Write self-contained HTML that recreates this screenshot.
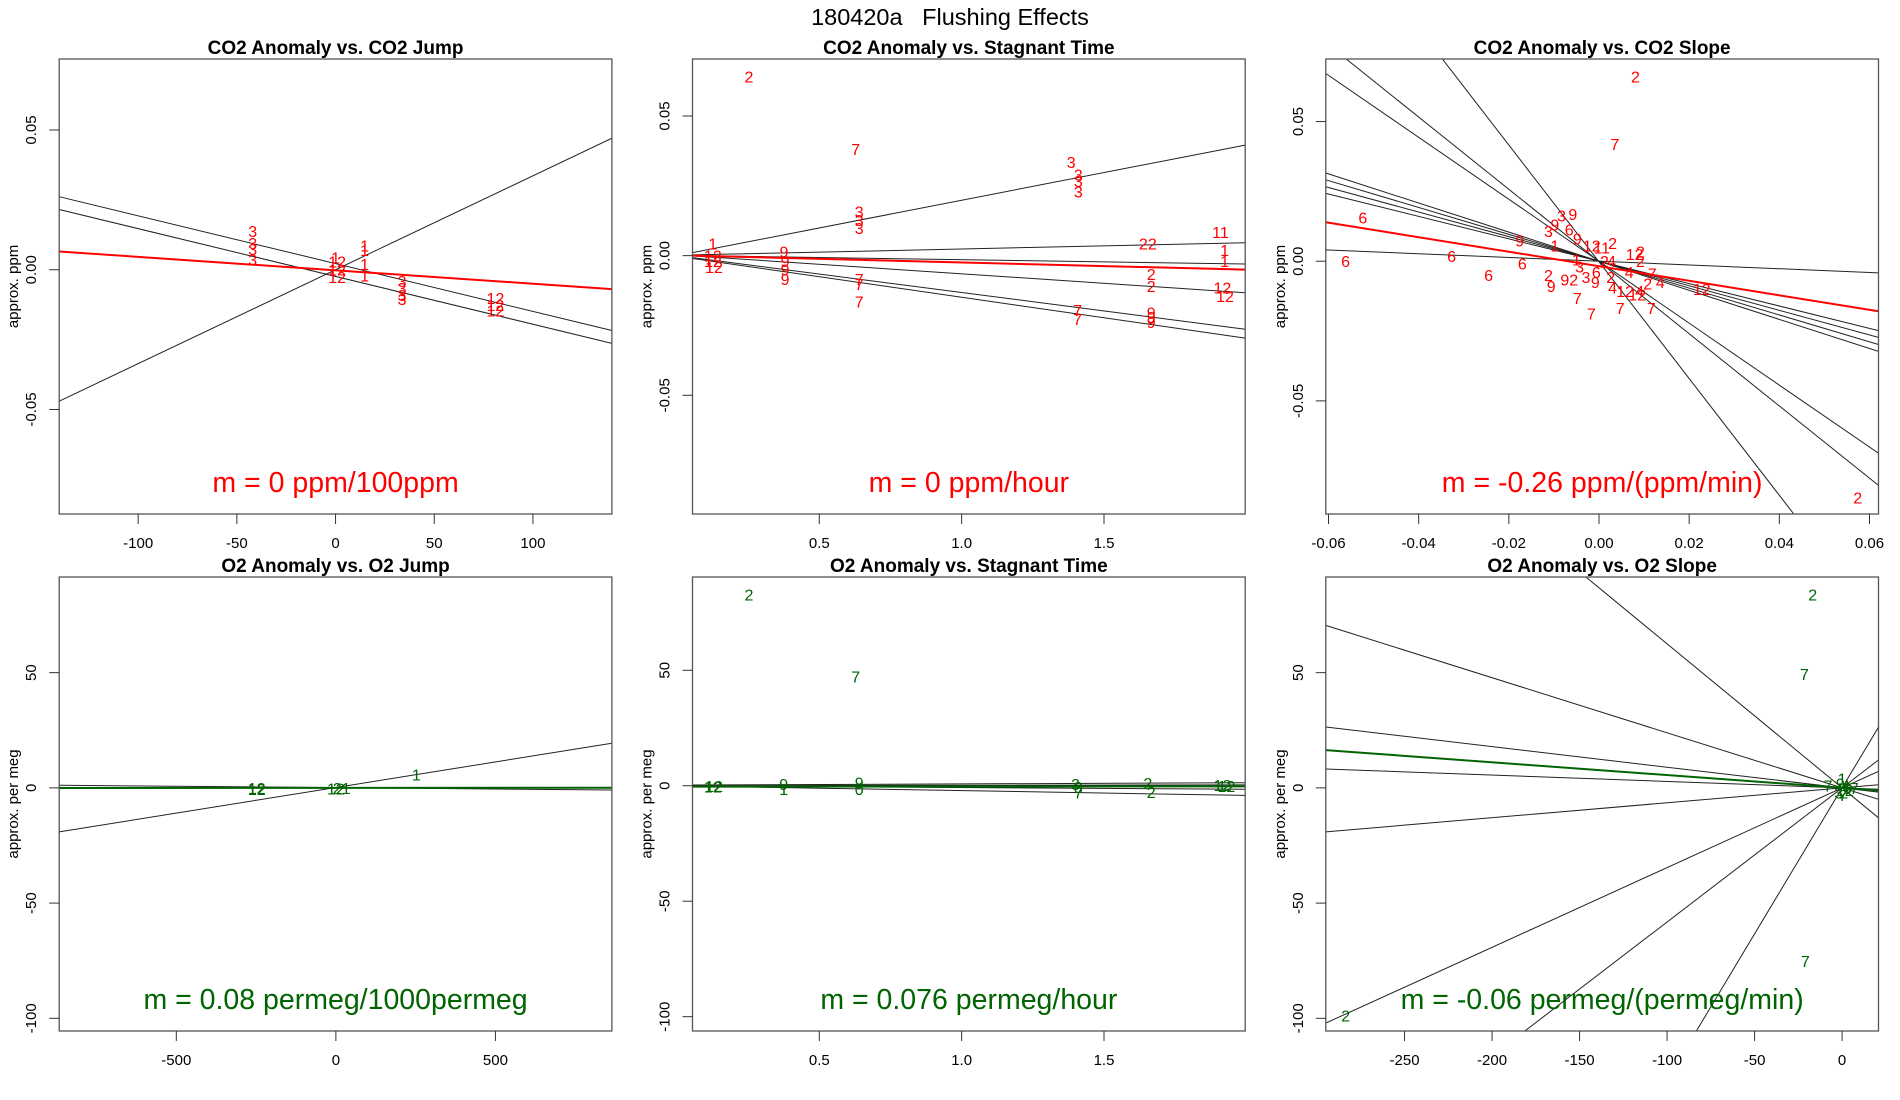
<!DOCTYPE html>
<html><head><meta charset="utf-8"><style>
html,body{margin:0;padding:0;background:#fff;width:1900px;height:1100px;overflow:hidden;}
svg{display:block;font-family:"Liberation Sans",Arial,sans-serif;}
</style></head><body>
<svg id="fig" width="1900" height="1100" viewBox="0 0 1900 1100">
<rect x="0" y="0" width="1900" height="1100" fill="#fff"/>
<text x="950" y="25" text-anchor="middle" font-size="23.5">180420a&#160;&#160;&#160;Flushing Effects</text>
</svg>
<script>
// ---------- Panel 1: CO2 anomaly vs CO2 jump ----------
const p1LabelText = ["3","3","3","3","1","1","1","1","12","12","12","1","3","3","3","3","12","12","12"];
const p1LabelX = [-42,-42,-42,-42,14.7,14.7,14.7,14.7,0.8,0.8,0.8,0,33.7,33.7,33.7,33.7,81,81,81];
const p1LabelY = [0.0139,0.0096,0.0074,0.0036,0.0086,0.0071,0.0021,-0.002,0.003,0,-0.0026,0.0043,-0.004,-0.0065,-0.009,-0.0105,-0.0101,-0.0126,-0.0145];
const p1Slopes = [-0.000171,-0.000171,0.000336];
const p1Intercepts = [0.0022,-0.0024,0];
const p1Fit = [-0.000048,-0.0002];
const p1XTicks = [-100,-50,0,50,100];
const p1YTicks = [-0.05,0,0.05];
const p1YTickLabels = ["-0.05","0.00","0.05"];

// ---------- Panel 2: CO2 anomaly vs stagnant time ----------
const p2LabelText = ["2","7","3","3","3","3","3","3","3","1","12","12","12","9","9","9","9","7","7","7","11","1","1","22","2","2","12","12","7","7","9","9","9"];
const p2LabelX = [0.253,0.628,1.385,1.41,1.41,1.41,0.64,0.64,0.64,0.126,0.126,0.126,0.13,0.376,0.38,0.38,0.38,0.64,0.64,0.64,1.909,1.924,1.924,1.654,1.666,1.666,1.916,1.925,1.407,1.407,1.666,1.666,1.666];
const p2LabelY = [0.0642,0.0381,0.0335,0.029,0.0268,0.023,0.0158,0.0128,0.0099,0.0043,0,-0.002,-0.004,0.0014,-0.002,-0.005,-0.0083,-0.0083,-0.0101,-0.0164,0.0084,0.0021,-0.002,0.0043,-0.0066,-0.0108,-0.0114,-0.0145,-0.0195,-0.0227,-0.0204,-0.022,-0.0237];
const p2Slopes = [0.01983,0.00225,-0.00155,-0.0068,-0.0132,-0.0147];
const p2Intercepts = [0,0.00013,0.0001,0.0003,0,-0.0002];
const p2Fit = [-0.00258,0.00014];
const p2XTicks = [0.5,1.0,1.5];
const p2XTickLabels = ["0.5","1.0","1.5"];

// ---------- Panel 3: CO2 anomaly vs CO2 slope ----------
const p3LabelText = ["2","7","6","6","6","6","6","9","3","9","3","9","6","9","1","2","12","11","12","2","2","2","9","92","3","9","7","7","7","7","12","12","4","2","4","7","4","12","4","2","3","1","6","2","4","2"];
const p3LabelX = [0.0081,0.0035,-0.0524,-0.0562,-0.0327,-0.0245,-0.017,-0.0176,-0.0083,-0.0058,-0.0112,-0.0098,-0.0066,-0.0048,-0.0098,0.003,-0.0016,0.0006,0.0079,0.0092,0.0092,-0.0112,-0.0106,-0.0066,-0.0029,-0.0008,-0.0048,-0.0017,0.0047,0.0116,0.0058,0.0085,0.009,0.0108,0.0136,0.0118,0.0067,0.0228,0.0028,0.0012,-0.0043,-0.005,-0.0006,0.0026,0.003,0.0574];
const p3LabelY = [0.0662,0.042,0.0157,0,0.0019,-0.005,-0.0009,0.0075,0.0163,0.0169,0.0109,0.0132,0.0113,0.0081,0.0056,0.0065,0.0056,0.005,0.0025,0.0034,0,-0.005,-0.0088,-0.0065,-0.0056,-0.0075,-0.0132,-0.0188,-0.0167,-0.0167,-0.0107,-0.0119,-0.0107,-0.0079,-0.0075,-0.0044,-0.0038,-0.01,0,0,-0.0019,0.0006,-0.0038,-0.0056,-0.0094,-0.0846];
const p3Slopes = [-2.09,-1.293,-1.109,-0.521,-0.481,-0.44,-0.401,-0.067];
const p3Intercepts = [-0.0002,-0.0001,0,0,0,0,0,0];
const p3Fit = [-0.26,-0.0018];
const p3XTicks = [-0.06,-0.04,-0.02,0,0.02,0.04,0.06];
const p3XTickLabels = ["-0.06","-0.04","-0.02","0.00","0.02","0.04","0.06"];

// ---------- Panel 4: O2 anomaly vs O2 jump ----------
const p4LabelText = ["12","12","12","21","1"];
const p4LabelX = [-248,-248,0,18,252];
const p4LabelY = [0,-0.5,-0.3,0,5.8];
const p4Slopes = [0.0222,-0.0012];
const p4Intercepts = [0.15,0.1];
const p4Fit = [0.00008,0];
const p4XTicks = [-500,0,500];
const p4YTicks = [-100,-50,0,50];

// ---------- Panel 5: O2 anomaly vs stagnant time ----------
const p5LabelText = ["2","7","12","12","9","1","9","0","3","3","7","2","2","12","12"];
const p5LabelX = [0.253,0.628,0.126,0.13,0.375,0.375,0.64,0.64,1.40,1.41,1.41,1.654,1.666,1.916,1.93];
const p5LabelY = [82.9,47.4,-0.3,0,0.8,-1.5,1.5,-1.5,0.8,-0.5,-3,1.2,-2.7,0.3,0];
const p5Slopes = [-2.1,-0.77,0.5,0.2];
const p5Intercepts = [0,0,0.3,0];
const p5Fit = [0.076,-0.4];

// ---------- Panel 6: O2 anomaly vs O2 slope ----------
const p6LabelText = ["2","7","7","2","7","7","1","2","4","9","12","3","6","7"];
const p6LabelX = [-16.8,-21.5,-21,-283.6,-8,7,0,1,2,-1,1.5,-2,3,0.5];
const p6LabelY = [83.9,49.4,-75.2,-98.8,1,0,4,-2,1,2,-1,-2,0,-3];
const p6Slopes = [-0.625,-0.239,-0.0895,-0.0278,0.0647,0.346,0.582,1.267];
const p6Intercepts = [0,0,0,0,0,0,0,0];
const p6Fit = [-0.0555,0];
const p6XTicks = [-250,-200,-150,-100,-50,0];
const p6XTickLabels = ["-250","-200","-150","-100","-50","0"];

const NS = "http://www.w3.org/2000/svg";
const svg = document.getElementById("fig");
function mk(tag, attrs, parent){
  const e = document.createElementNS(NS, tag);
  for (const k in attrs) e.setAttribute(k, attrs[k]);
  (parent||svg).appendChild(e);
  return e;
}

function panel(cfg){
  const L = cfg.left, T = cfg.top, W = 552.7, H = cfg.h;
  const sx = v => L + (v - cfg.xlim[0]) / (cfg.xlim[1] - cfg.xlim[0]) * W;
  const sy = v => T + (cfg.ylim[1] - v) / (cfg.ylim[1] - cfg.ylim[0]) * H;
  const g = mk("g", {});
  
  
  const clipId = "clip-" + cfg.name;
  const cp = mk("clipPath", {id: clipId}, g);
  mk("rect", {x: L, y: T, width: W, height: H}, cp);

  const title = mk("text", {x: L + W/2, y: T - 5, "text-anchor": "middle", "font-size": 19, "font-weight": "bold"}, g);
  title.textContent = cfg.title;
  
  

  const lg = mk("g", {"clip-path": "url(#" + clipId + ")"}, g);
  
  
  const x0 = cfg.xlim[0], x1 = cfg.xlim[1];
  for (let i = 0; i < cfg.slopes.length; i++){
    const m = cfg.slopes[i], b = cfg.intercepts[i];
    const ln = mk("line", {x1: sx(x0), y1: sy(m*x0+b), x2: sx(x1), y2: sy(m*x1+b), stroke: "#222", "stroke-width": 1}, lg);
    
    
  }
  const tg = mk("g", {"clip-path": "url(#" + clipId + ")"}, g);
  
  
  for (let i = 0; i < cfg.lx.length; i++){
    const t = mk("text", {x: sx(cfg.lx[i]), y: sy(cfg.ly[i]) + 6, "text-anchor": "middle", "font-size": 16, fill: cfg.color}, tg);
    t.textContent = cfg.lt[i];
    
    
  }
  const fm = cfg.fit[0], fb = cfg.fit[1];
  const fl = mk("line", {x1: sx(x0), y1: sy(fm*x0+fb), x2: sx(x1), y2: sy(fm*x1+fb), stroke: cfg.color, "stroke-width": 2, "clip-path": "url(#" + clipId + ")"}, g);
  
  

  const box = mk("rect", {x: L, y: T, width: W, height: H, fill: "none", stroke: "#555", "stroke-width": 1.3}, g);
  
  

  const ann = mk("text", {x: L + W/2, y: T + H - 22, "text-anchor": "middle", "font-size": 28.5, fill: cfg.color}, g);
  ann.textContent = cfg.ann;
  
  

  const xa = mk("g", {}, g);
  
  
  cfg.xticks.forEach((v, i) => {
    const X = sx(v);
    mk("line", {x1: X, y1: T+H, x2: X, y2: T+H+10, stroke: "#333", "stroke-width": 1}, xa);
    const t = mk("text", {x: X, y: T+H+34, "text-anchor": "middle", "font-size": 15}, xa);
    t.textContent = cfg.xtl[i];
    
    
  });
  const ya = mk("g", {}, g);
  
  
  cfg.yticks.forEach((v, i) => {
    const Y = sy(v);
    mk("line", {x1: L-10, y1: Y, x2: L, y2: Y, stroke: "#333", "stroke-width": 1}, ya);
    const t = mk("text", {x: L-23, y: Y, "text-anchor": "middle", "font-size": 15, transform: "rotate(-90 " + (L-23) + " " + Y + ")"}, ya);
    t.textContent = cfg.ytl[i];
    
    
  });
  const yl = mk("text", {x: L-41, y: T+H/2, "text-anchor": "middle", "font-size": 15, transform: "rotate(-90 " + (L-41) + " " + (T+H/2) + ")"}, g);
  yl.textContent = cfg.ylab;
  
  
}

const colL = [59.2, 692.5, 1325.8];
const rowT = [59, 577];
const rowH = [455, 454];
const red = "#ff0000", green = "#006400";
const co2Y = {yticks: p1YTicks, ytl: p1YTickLabels, ylab: "approx. ppm", color: red};
const o2YTL = p4YTicks.map(String);
const o2Y = {yticks: p4YTicks, ytl: o2YTL, ylab: "approx. per meg", color: green};

panel(Object.assign({name:"panel-co2-jump", left: colL[0], top: rowT[0], h: rowH[0], title:"CO2 Anomaly vs. CO2 Jump",
  xlim:[-140,140], ylim:[-0.0874,0.0754], lt:p1LabelText, lx:p1LabelX, ly:p1LabelY, slopes:p1Slopes, intercepts:p1Intercepts, fit:p1Fit,
  xticks:p1XTicks, xtl:p1XTicks.map(String), ann:"m = 0 ppm/100ppm"}, co2Y));
panel(Object.assign({name:"panel-co2-stagnant", left: colL[1], top: rowT[0], h: rowH[0], title:"CO2 Anomaly vs. Stagnant Time",
  xlim:[0.0546,1.996], ylim:[-0.0925,0.0704], lt:p2LabelText, lx:p2LabelX, ly:p2LabelY, slopes:p2Slopes, intercepts:p2Intercepts, fit:p2Fit,
  xticks:p2XTicks, xtl:p2XTickLabels, ann:"m = 0 ppm/hour"}, co2Y));
panel(Object.assign({name:"panel-co2-slope", left: colL[2], top: rowT[0], h: rowH[0], title:"CO2 Anomaly vs. CO2 Slope",
  xlim:[-0.0606,0.0620], ylim:[-0.0905,0.0724], lt:p3LabelText, lx:p3LabelX, ly:p3LabelY, slopes:p3Slopes, intercepts:p3Intercepts, fit:p3Fit,
  xticks:p3XTicks, xtl:p3XTickLabels, ann:"m = -0.26 ppm/(ppm/min)"}, co2Y));
panel(Object.assign({name:"panel-o2-jump", left: colL[0], top: rowT[1], h: rowH[1], title:"O2 Anomaly vs. O2 Jump",
  xlim:[-867,865], ylim:[-105.5,91.5], lt:p4LabelText, lx:p4LabelX, ly:p4LabelY, slopes:p4Slopes, intercepts:p4Intercepts, fit:p4Fit,
  xticks:p4XTicks, xtl:p4XTicks.map(String), ann:"m = 0.08 permeg/1000permeg"}, o2Y));
panel(Object.assign({name:"panel-o2-stagnant", left: colL[1], top: rowT[1], h: rowH[1], title:"O2 Anomaly vs. Stagnant Time",
  xlim:[0.0546,1.996], ylim:[-106.2,90.4], lt:p5LabelText, lx:p5LabelX, ly:p5LabelY, slopes:p5Slopes, intercepts:p5Intercepts, fit:p5Fit,
  xticks:p2XTicks, xtl:p2XTickLabels, ann:"m = 0.076 permeg/hour"}, o2Y));
panel(Object.assign({name:"panel-o2-slope", left: colL[2], top: rowT[1], h: rowH[1], title:"O2 Anomaly vs. O2 Slope",
  xlim:[-295,20.8], ylim:[-105.5,91.5], lt:p6LabelText, lx:p6LabelX, ly:p6LabelY, slopes:p6Slopes, intercepts:p6Intercepts, fit:p6Fit,
  xticks:p6XTicks, xtl:p6XTickLabels, ann:"m = -0.06 permeg/(permeg/min)"}, o2Y));
</script>
</body></html>
